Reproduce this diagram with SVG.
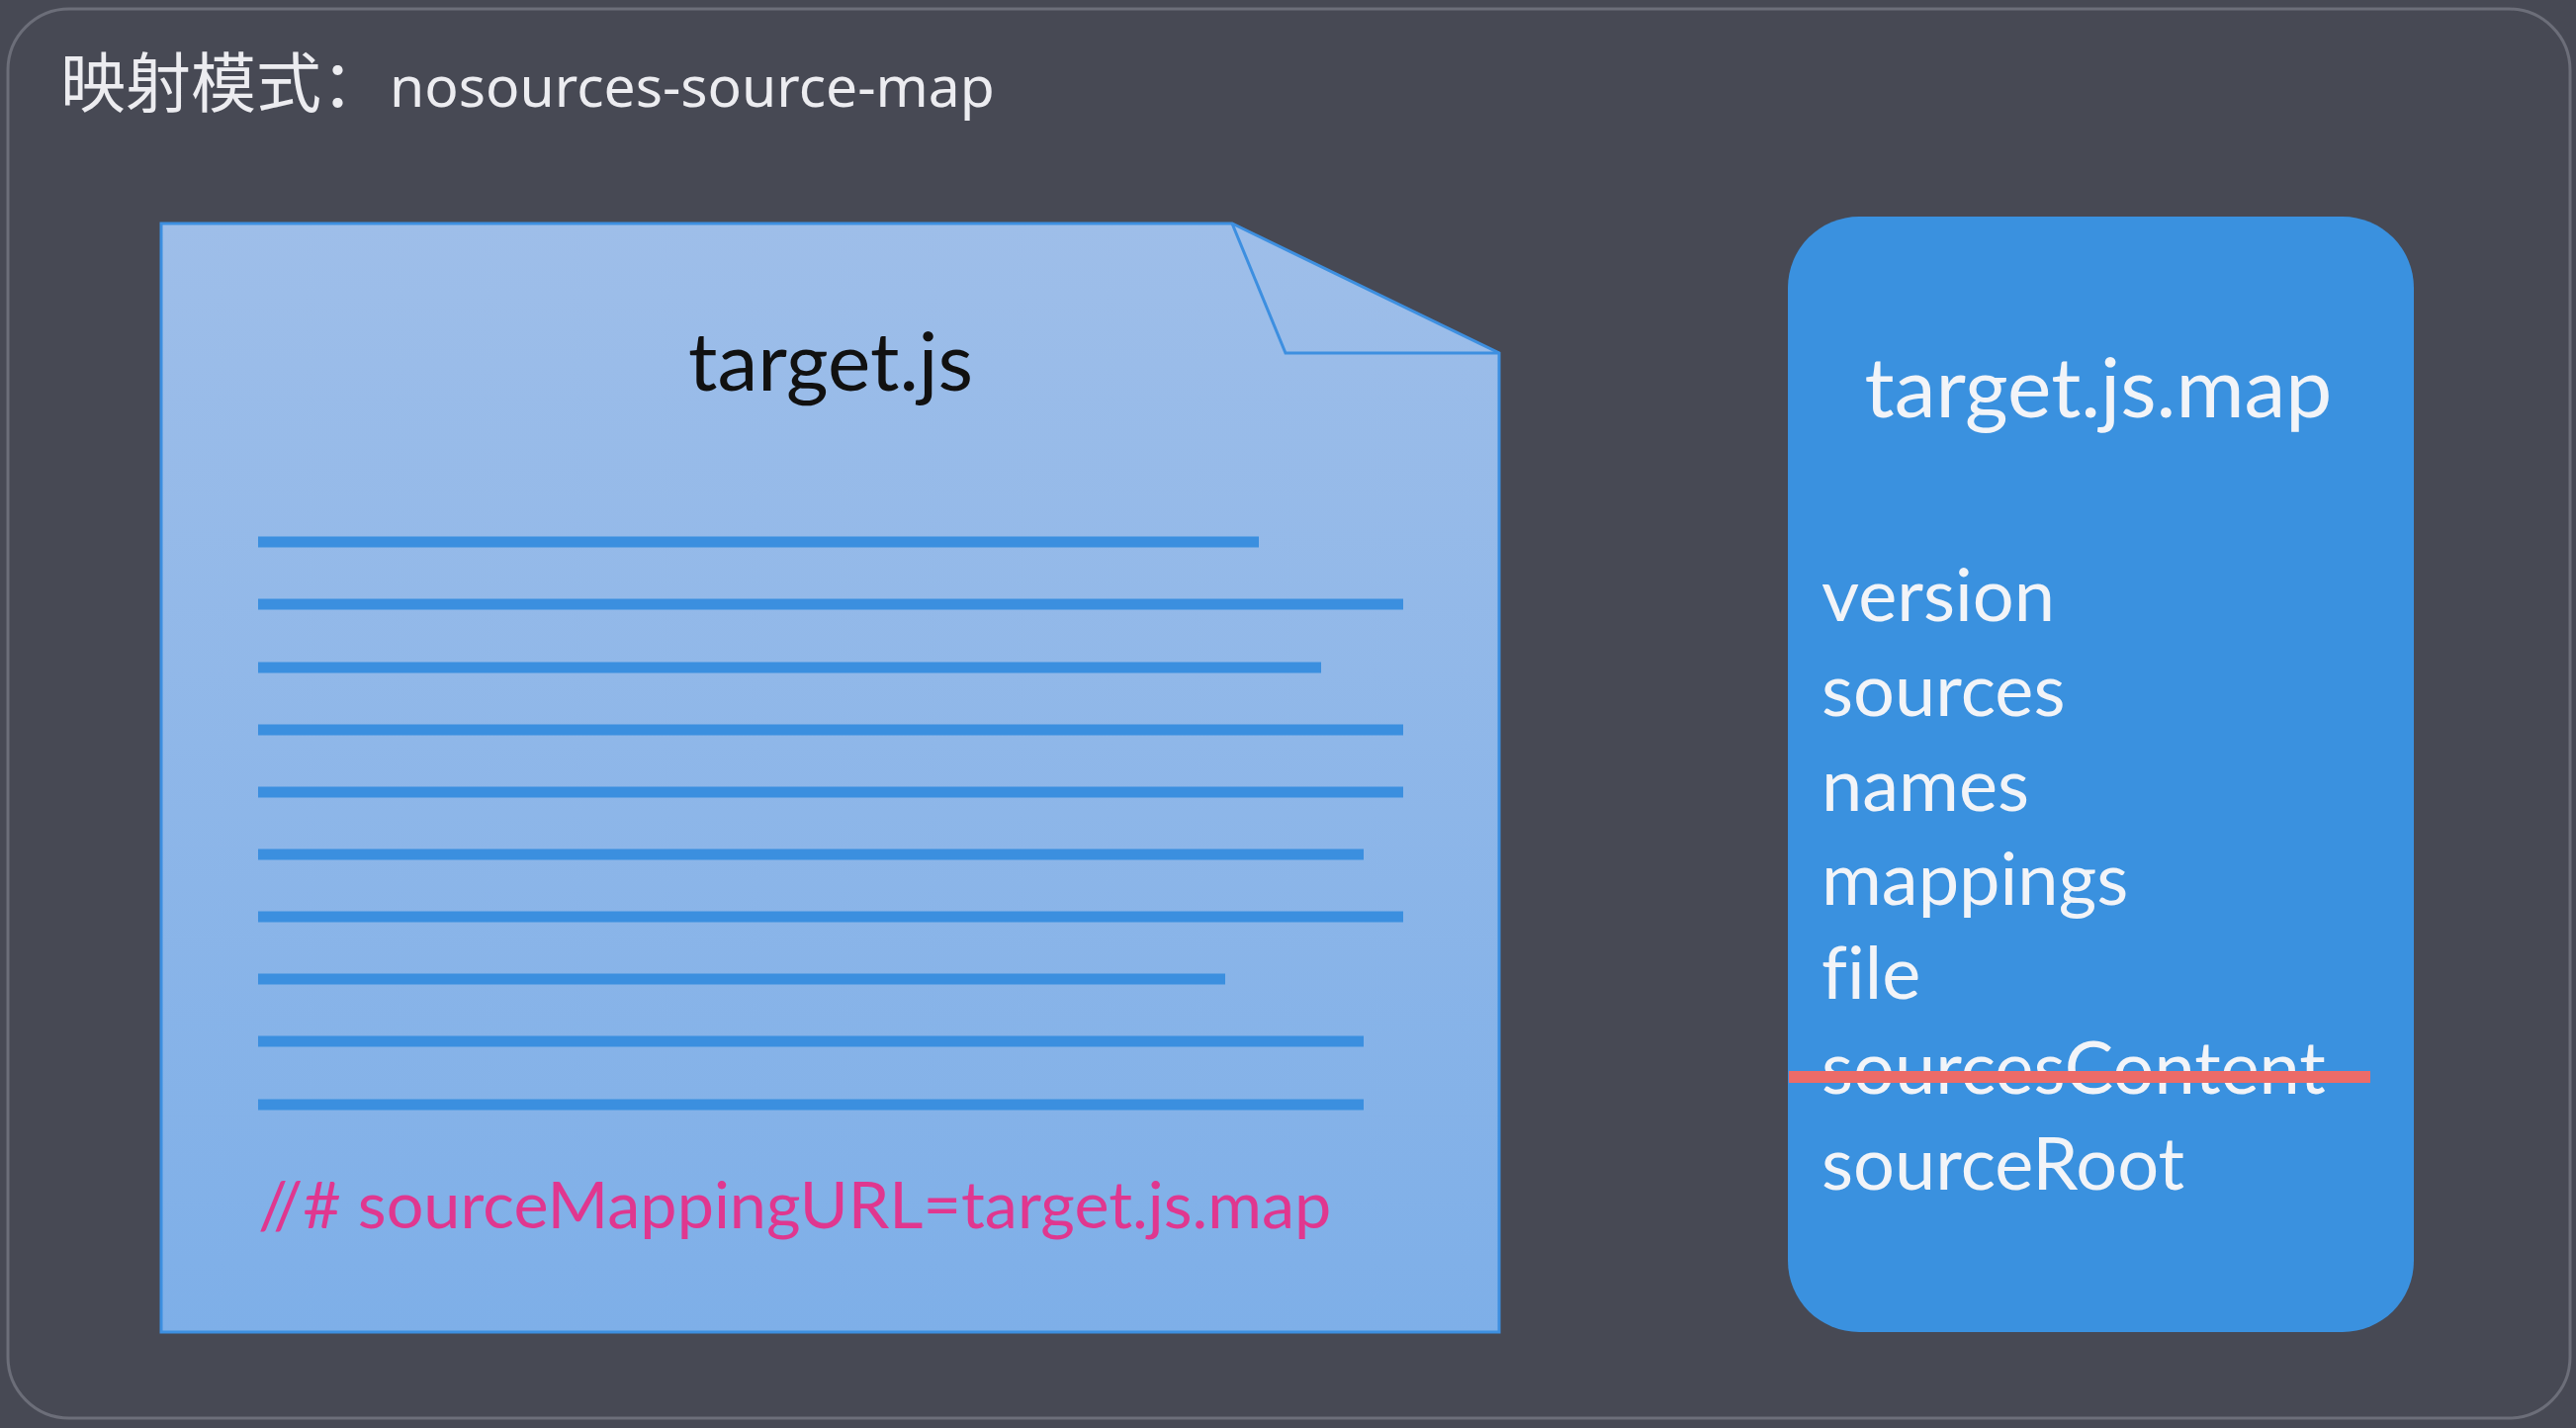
<svg xmlns="http://www.w3.org/2000/svg" width="2605" height="1444" viewBox="0 0 2605 1444">
  <defs>
    <linearGradient id="docFill" x1="0" y1="0" x2="0" y2="1">
      <stop offset="0" stop-color="#9ebee9"/>
      <stop offset="1" stop-color="#7eafe8"/>
    </linearGradient>
    <style>
      .cal { font-family: Lato, "Noto Sans", "Liberation Sans", sans-serif; font-variant-ligatures: none; font-feature-settings: "liga" 0; }
      .codeline { stroke: #3b8fdf; stroke-width: 11; stroke-linecap: butt; }
      .item { font-size: 74px; fill: #f2f4f8; }
    </style>
  </defs>
  <rect x="0" y="0" width="2605" height="1444" fill="#474954"/>
  <rect x="8" y="9" width="2591" height="1425" rx="62" ry="62" fill="#474954" stroke="#6c6e79" stroke-width="3"/>

  <g id="title">
    <text x="61" y="108" fill="#ececf0" font-family="'Noto Sans CJK SC', sans-serif" font-size="66">映射模式：<tspan x="394" font-family="'Noto Sans', 'Noto Sans CJK SC', sans-serif" font-size="57">nosources-source-map</tspan></text>
  </g>

  <g id="target-js">
    <path d="M163,226 L1246,226 L1516,357 L1516,1347 L163,1347 Z" fill="url(#docFill)" stroke="#3d8fe0" stroke-width="3"/>
    <path d="M1246,226 L1300,357 L1516,357" fill="none" stroke="#3d8fe0" stroke-width="3"/>
    <text class="cal" x="840" y="395" text-anchor="middle" font-size="82" fill="#111111">target.js</text>
    <line class="codeline" x1="261" y1="548" x2="1273" y2="548"/>
    <line class="codeline" x1="261" y1="611" x2="1419" y2="611"/>
    <line class="codeline" x1="261" y1="675" x2="1336" y2="675"/>
    <line class="codeline" x1="261" y1="738" x2="1419" y2="738"/>
    <line class="codeline" x1="261" y1="801" x2="1419" y2="801"/>
    <line class="codeline" x1="261" y1="864" x2="1379" y2="864"/>
    <line class="codeline" x1="261" y1="927" x2="1419" y2="927"/>
    <line class="codeline" x1="261" y1="990" x2="1239" y2="990"/>
    <line class="codeline" x1="261" y1="1053" x2="1379" y2="1053"/>
    <line class="codeline" x1="261" y1="1117" x2="1379" y2="1117"/>
    <text class="cal" x="261" y="1242" font-size="66.5" fill="#e0378f">//# sourceMappingURL=target.js.map</text>
  </g>

  <g id="target-js-map">
    <rect x="1808" y="219" width="633" height="1128" rx="72" ry="72" fill="#3a91df"/>
    <text class="cal" x="2122" y="422" text-anchor="middle" font-size="84" fill="#f2f4f8">target.js.map</text>
    <text class="cal item" x="1842" y="628">version</text>
    <text class="cal item" x="1842" y="724">sources</text>
    <text class="cal item" x="1842" y="820">names</text>
    <text class="cal item" x="1842" y="915">mappings</text>
    <text class="cal item" x="1842" y="1010">file</text>
    <text class="cal item" x="1842" y="1106">sourcesContent</text>
    <text class="cal item" x="1842" y="1203">sourceRoot</text>
    <line x1="1809" y1="1089" x2="2397" y2="1089" stroke="#ec6b68" stroke-width="12"/>
  </g>
</svg>
